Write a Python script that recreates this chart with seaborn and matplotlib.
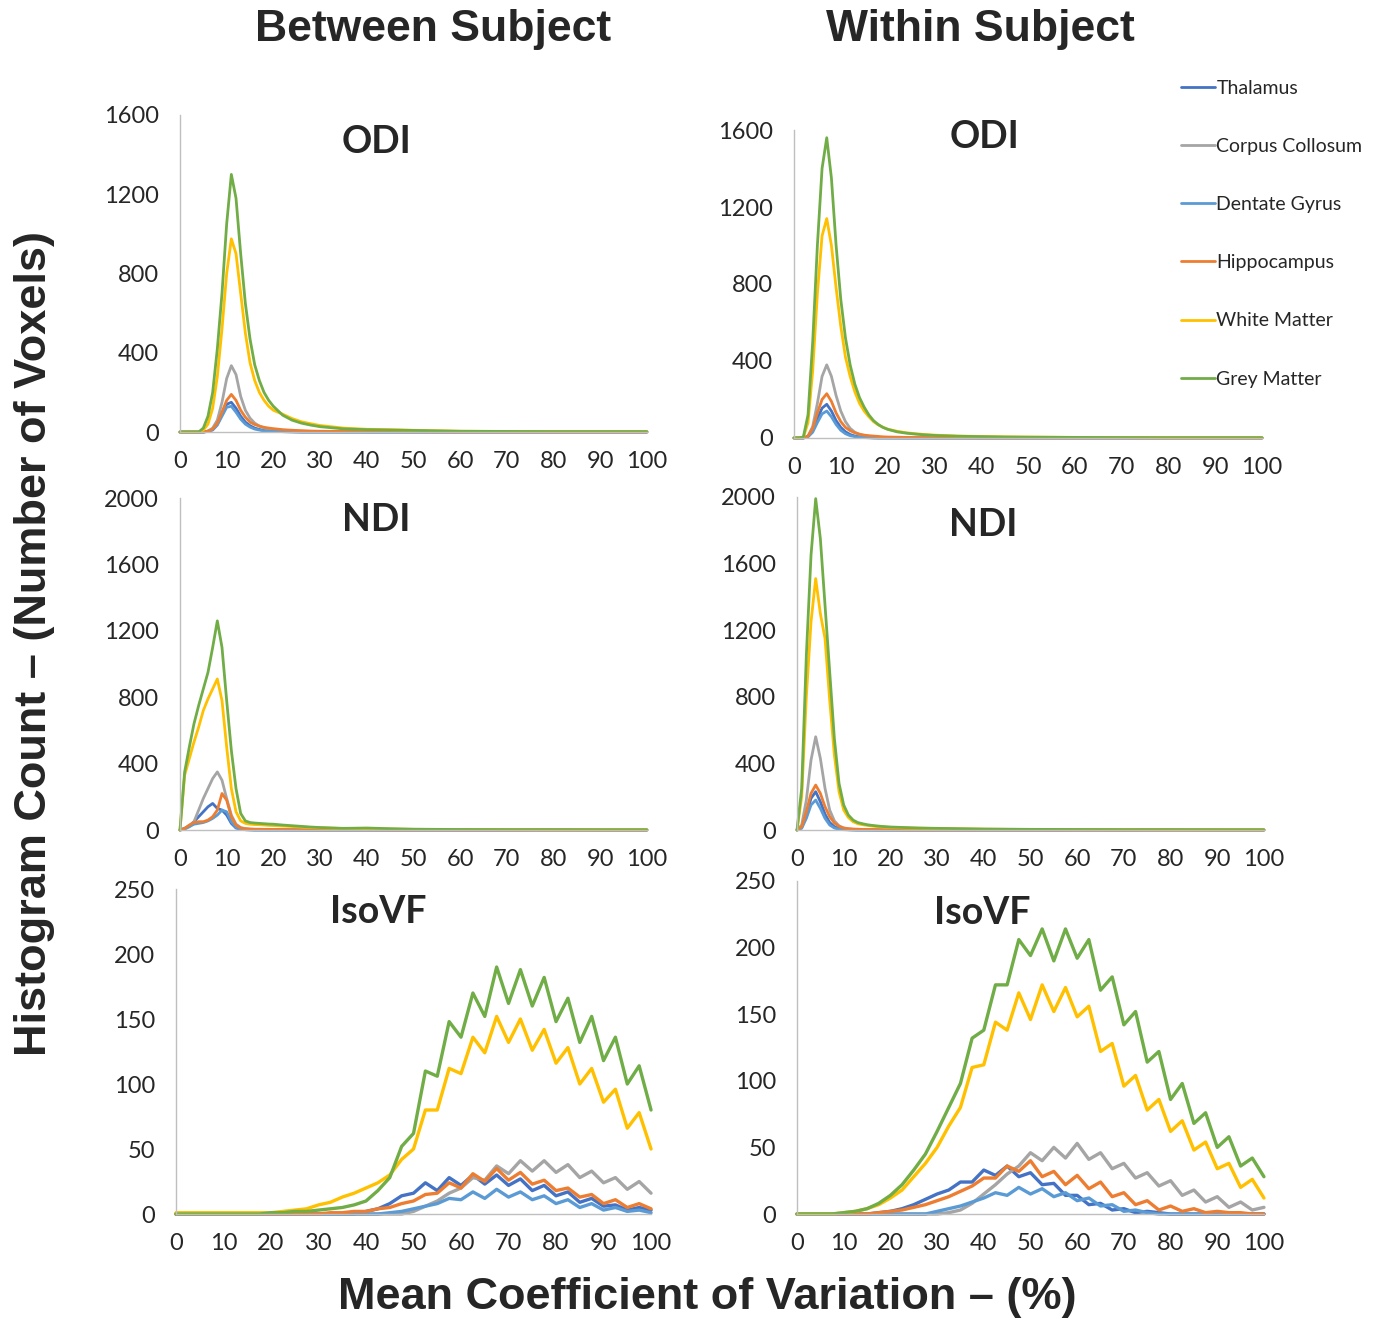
import matplotlib
matplotlib.use('Agg')
import matplotlib.pyplot as plt
import numpy as np
import pandas as pd
import seaborn as sns

# 6개 영역 (Excel 기본 색상 순서)
regions = ['Thalamus', 'Corpus Collosum', 'Dentate Gyrus', 'Hippocampus', 'White Matter', 'Grey Matter']
colors = ['#4472C4', '#A5A5A5', '#5B9BD5', '#ED7D31', '#FFC000', '#70AD47']


def pad(vals, n):
    # 뒤쪽은 0으로 채움
    return vals + [0] * (n - len(vals))


# ODI / NDI : 좁은 피크 -> x 격자
cv_peak = [0, 1, 2, 3, 4, 5, 6, 7, 8, 9, 10, 11, 12, 13, 14, 15, 16, 17, 18, 19, 20,
           22, 24, 26, 28, 30, 35, 40, 45, 50, 60, 70, 80, 90, 100]
N1 = len(cv_peak)

odi_between = [
    pad([0, 0, 0, 0, 0, 0, 4, 12, 40, 95, 140, 150, 120, 80, 50, 32, 20, 13, 8, 5, 4, 2, 1], N1),
    pad([0, 0, 0, 0, 0, 0, 5, 20, 60, 150, 270, 335, 290, 180, 110, 70, 45, 30, 20, 14, 10, 6, 4, 3, 2, 2, 1], N1),
    pad([0, 0, 0, 0, 0, 0, 3, 10, 35, 80, 125, 130, 100, 65, 40, 25, 15, 10, 6, 4, 3, 2, 1], N1),
    pad([0, 0, 0, 0, 0, 0, 5, 15, 45, 100, 160, 190, 160, 110, 75, 50, 38, 30, 24, 20, 17, 12, 9, 7, 5, 4, 3, 2, 2, 1], N1),
    [0, 0, 0, 0, 0, 10, 40, 120, 280, 520, 800, 975, 900, 700, 500, 350, 260, 200, 160, 130, 110,
     90, 68, 52, 42, 33, 20, 14, 12, 9, 4, 3, 2, 2, 2],
    [0, 0, 0, 0, 0, 20, 80, 200, 420, 700, 1050, 1300, 1180, 900, 650, 470, 340, 260, 200, 160, 130,
     85, 60, 45, 35, 27, 16, 12, 10, 8, 4, 3, 2, 2, 2],
]

odi_within = [
    pad([0, 0, 0, 8, 40, 100, 155, 175, 140, 90, 55, 32, 18, 10, 6, 4, 2, 1], N1),
    pad([0, 0, 0, 10, 60, 180, 320, 380, 320, 220, 140, 85, 50, 30, 18, 11, 7, 5, 3, 2, 2, 1], N1),
    pad([0, 0, 0, 6, 30, 80, 125, 140, 110, 70, 40, 22, 12, 7, 4, 2, 1], N1),
    pad([0, 0, 0, 10, 50, 130, 200, 230, 190, 130, 85, 55, 38, 27, 20, 15, 12, 10, 8, 6, 5, 4, 3, 2, 2, 1, 1], N1),
    [0, 0, 3, 80, 350, 750, 1050, 1140, 1000, 780, 580, 420, 320, 240, 180, 140, 110, 85, 68, 56, 46,
     35, 27, 22, 18, 15, 10, 8, 6, 5, 3, 2, 1, 1, 1],
    [0, 0, 5, 120, 500, 1000, 1400, 1560, 1350, 1000, 720, 520, 380, 280, 210, 160, 120, 90, 70, 55, 45,
     32, 25, 20, 16, 13, 9, 7, 5, 4, 3, 2, 1, 1, 1],
]

ndi_between = [
    pad([0, 10, 25, 50, 80, 110, 140, 160, 130, 120, 90, 40, 12, 5, 2, 1], N1),
    pad([0, 5, 20, 50, 120, 190, 250, 310, 350, 300, 190, 90, 35, 15, 8, 5, 4, 3, 3, 2, 2, 2, 1, 1], N1),
    pad([0, 8, 20, 35, 40, 45, 55, 70, 90, 120, 110, 50, 15, 5, 2, 1], N1),
    pad([0, 10, 30, 45, 50, 50, 60, 80, 120, 220, 180, 80, 30, 12, 8, 6, 5, 5, 4, 4, 3, 3, 2, 2, 2, 1, 1, 1], N1),
    [0, 330, 430, 530, 620, 720, 790, 850, 910, 780, 500, 250, 110, 55, 40, 35, 33, 32, 30, 28, 27,
     24, 21, 18, 15, 13, 9, 8, 6, 4, 3, 2, 1, 1, 1],
    [0, 350, 500, 640, 750, 850, 950, 1100, 1260, 1100, 780, 480, 250, 100, 55, 45, 42, 40, 38, 36, 35,
     30, 26, 22, 18, 15, 10, 12, 8, 5, 3, 2, 2, 1, 1],
]

ndi_within = [
    pad([0, 15, 90, 190, 230, 170, 95, 45, 20, 8, 4, 2, 1], N1),
    pad([0, 30, 180, 420, 560, 430, 250, 120, 55, 25, 12, 7, 4, 3, 2, 2, 1], N1),
    pad([0, 10, 70, 150, 180, 130, 70, 30, 12, 5, 2, 1], N1),
    pad([0, 20, 110, 220, 270, 220, 140, 80, 42, 22, 12, 8, 6, 5, 4, 3, 3, 2, 2, 2, 2, 1], N1),
    [0, 200, 800, 1250, 1510, 1300, 1150, 780, 450, 230, 120, 75, 50, 38, 32, 28, 24, 21, 19, 17, 16,
     14, 12, 11, 10, 9, 7, 5, 4, 3, 2, 2, 1, 1, 1],
    [0, 250, 1050, 1650, 1990, 1750, 1350, 950, 550, 280, 150, 90, 60, 45, 38, 32, 28, 25, 22, 20, 18,
     16, 14, 12, 11, 10, 8, 6, 5, 4, 3, 2, 2, 1, 1],
]

# IsoVF : 넓은 분포 -> 2.5 간격 (들쭉날쭉한 값)
cv_iso = [0, 2.5, 5, 7.5, 10, 12.5, 15, 17.5, 20, 22.5, 25, 27.5, 30, 32.5, 35, 37.5, 40, 42.5, 45, 47.5,
          50, 52.5, 55, 57.5, 60, 62.5, 65, 67.5, 70, 72.5, 75, 77.5, 80, 82.5, 85, 87.5, 90, 92.5, 95, 97.5, 100]
N2 = len(cv_iso)

iso_between = [
    pad([0] * 16 + [2, 4, 8, 14, 16, 24, 18, 28, 22, 30, 23, 30, 22, 27, 18, 22, 14, 17, 9, 12, 6, 7, 3, 5, 3], N2),
    pad([0] * 20 + [2, 6, 10, 16, 20, 28, 26, 37, 31, 41, 33, 41, 32, 38, 28, 33, 24, 28, 19, 25, 16], N2),
    pad([0] * 18 + [1, 2, 4, 6, 8, 12, 11, 17, 12, 19, 13, 17, 11, 14, 8, 11, 5, 8, 3, 5, 2, 3, 1], N2),
    pad([0] * 13 + [1, 1, 2, 2, 4, 5, 8, 10, 15, 16, 24, 20, 31, 25, 35, 26, 32, 23, 26, 18, 20, 13, 15, 8, 11, 5, 8, 4], N2),
    [1, 1, 1, 1, 1, 1, 1, 1, 1, 2, 3, 4, 7, 9, 13, 16, 20, 24, 30, 42, 50, 80, 80, 112, 108, 136,
     124, 152, 132, 150, 126, 142, 116, 128, 100, 112, 86, 96, 66, 78, 50],
    [0, 0, 0, 0, 0, 0, 0, 0, 1, 1, 2, 2, 3, 4, 5, 7, 10, 18, 28, 52, 62, 110, 106, 148, 136, 170,
     152, 190, 162, 188, 160, 182, 148, 166, 132, 152, 118, 136, 100, 114, 80],
]

iso_within = [
    pad([0] * 7 + [1, 2, 4, 7, 11, 15, 18, 24, 24, 33, 29, 36, 28, 31, 22, 23, 14, 14, 7, 8, 3, 4, 1, 2, 1], N2),
    pad([0] * 13 + [1, 3, 8, 15, 22, 30, 36, 46, 40, 50, 42, 53, 41, 46, 34, 38, 27, 31, 21, 25, 14, 18, 9, 13, 5, 9, 3, 5], N2),
    pad([0] * 12 + [2, 4, 6, 9, 12, 16, 14, 20, 15, 19, 13, 16, 10, 12, 6, 7, 2, 3, 1], N2),
    pad([0] * 7 + [1, 2, 3, 5, 7, 10, 13, 17, 21, 27, 27, 36, 32, 40, 28, 32, 22, 29, 19, 24, 13, 16, 7, 10, 3, 6, 2, 4, 1, 2, 1, 1, 0], N2),
    [0, 0, 0, 0, 1, 2, 4, 7, 12, 18, 28, 38, 50, 66, 80, 110, 112, 144, 138, 166, 146, 172, 152, 170,
     148, 156, 122, 128, 96, 104, 78, 86, 62, 70, 48, 54, 34, 38, 20, 26, 12],
    [0, 0, 0, 0, 1, 2, 4, 8, 14, 22, 33, 45, 62, 80, 98, 132, 138, 172, 172, 206, 194, 214, 190, 214,
     192, 206, 168, 178, 142, 152, 114, 122, 86, 98, 68, 76, 50, 58, 36, 42, 28],
]

sns.set_style('white')
plt.rcParams['font.family'] = ['Lato', 'DejaVu Sans']

fig = plt.figure(figsize=(13.77, 13.2), dpi=100)

# (데이터, x격자, y최대, y간격, 제목, 축 위치, 제목 위치, 선 굵기)
panels = [
    (odi_between, cv_peak, 1600, 400, 'ODI', [0.1307, 0.6727, 0.3391, 0.2402], (0.42, 0.915), 2.0),
    (odi_within, cv_peak, 1600, 400, 'ODI', [0.5766, 0.6682, 0.3399, 0.2333], (0.406, 0.977), 2.0),
    (ndi_between, cv_peak, 2000, 400, 'NDI', [0.1307, 0.3712, 0.3391, 0.2515], (0.42, 0.934), 2.0),
    (ndi_within, cv_peak, 2000, 400, 'NDI', [0.5788, 0.3712, 0.3391, 0.2523], (0.398, 0.916), 2.0),
    (iso_between, cv_iso, 250, 50, 'IsoVF', [0.1278, 0.0803, 0.3450, 0.2462], (0.425, 0.929), 2.4),
    (iso_within, cv_iso, 250, 50, 'IsoVF', [0.5788, 0.0803, 0.3391, 0.2523], (0.396, 0.904), 2.4),
]

for vals, xs, ymax, ystep, name, rect, (tx, ty), lw in panels:
    ax = fig.add_axes(rect)
    df = pd.DataFrame({
        'cv': np.tile(xs, len(regions)),
        'count': np.concatenate(vals),
        'region': np.repeat(regions, len(xs)),
    })
    sns.lineplot(data=df, x='cv', y='count', hue='region', hue_order=regions,
                 palette=colors, estimator=None, sort=False, legend=False,
                 linewidth=lw, ax=ax)
    for line in ax.lines:
        line.set_clip_on(False)
    ax.set_xlim(0, 100)
    ax.set_ylim(0, ymax)
    ax.set_xticks(range(0, 101, 10))
    ax.set_yticks(range(0, ymax + 1, ystep))
    ax.set_xlabel('')
    ax.set_ylabel('')
    ax.tick_params(axis='both', length=0, labelsize=17)
    ax.tick_params(axis='x', pad=14)
    ax.tick_params(axis='y', pad=15)
    for side in ['top', 'right']:
        ax.spines[side].set_visible(False)
    for side in ['left', 'bottom']:
        ax.spines[side].set_color('#BFBFBF')
        ax.spines[side].set_linewidth(1)
    ax.text(tx, ty, name, transform=ax.transAxes, ha='center', va='center',
            fontsize=27, fontweight='bold')

# 범례 (오른쪽 위)
handles = fig.axes[0].lines[:6]
fig.legend(handles, regions, loc='upper left', bbox_to_anchor=(1163 / 1377, 1 - 62 / 1320),
           frameon=False, fontsize=14, handlelength=1.75, handletextpad=0.1, labelspacing=2.12)

# 열 제목 / 축 제목
title_font = ['Liberation Sans Narrow', 'Liberation Sans', 'DejaVu Sans']
fig.text(433 / 1377, 1 - 29 / 1320, 'Between Subject', ha='center', va='center',
         fontsize=32, fontweight='bold', family=title_font)
fig.text(980 / 1377, 1 - 29 / 1320, 'Within Subject', ha='center', va='center',
         fontsize=32, fontweight='bold', family=title_font)
fig.text(35 / 1377, 1 - 643 / 1320, 'Histogram Count – (Number of Voxels)', rotation=90,
         ha='center', va='center', fontsize=32.5, fontweight='bold', family=['Liberation Sans', 'DejaVu Sans'])
fig.text(707 / 1377, 1 - 1297 / 1320, 'Mean Coefficient of Variation – (%)',
         ha='center', va='center', fontsize=32.5, fontweight='bold', family=['Liberation Sans', 'DejaVu Sans'])

plt.savefig('out.png', dpi=100)
